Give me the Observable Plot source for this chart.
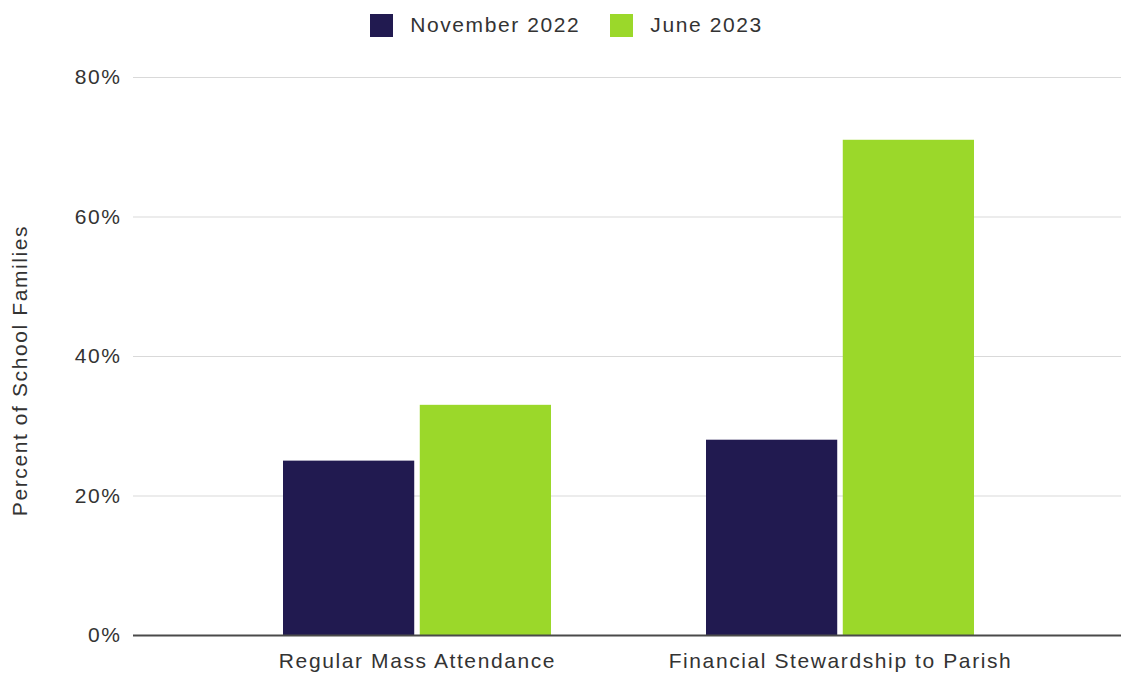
<!DOCTYPE html>
<html>
<head>
<meta charset="utf-8">
<script src="https://cdn.jsdelivr.net/npm/d3@7"></script>
<script src="https://cdn.jsdelivr.net/npm/@observablehq/plot@0.6"></script>
<style>
  html, body { margin: 0; padding: 0; background: #fff; }
  body { width: 1121px; height: 674px; overflow: hidden; font-family: "Liberation Sans", Arial, sans-serif; }
  #legend { height: 50px; display: flex; justify-content: center; align-items: center; gap: 30px; font-size: 21px; letter-spacing: 1.6px; color: #333; padding-left: 12px; box-sizing: border-box; }
  .item { display: flex; align-items: center; gap: 17px; }
  .sw { width: 23px; height: 23px; display: inline-block; }
  #chart svg { display: block; }
</style>
</head>
<body>
<div id="legend"></div>
<div id="chart"></div>
<script>
const categories = ["Regular Mass Attendance", "Financial Stewardship to Parish"];
const seriesNames = ["November 2022", "June 2023"];
const seriesColors = ["#211a50", "#9bd82a"];
const nov2022 = [25, 28];
const jun2023 = [33, 71];
const yTicks = [0, 20, 40, 60, 80];

const data = [];
categories.forEach((c, i) => {
  data.push({category: c, series: seriesNames[0], value: nov2022[i]});
  data.push({category: c, series: seriesNames[1], value: jun2023[i]});
});

const legend = document.getElementById("legend");
seriesNames.forEach((s, i) => {
  const it = document.createElement("div");
  it.className = "item";
  it.innerHTML = `<span class="sw" style="background:${seriesColors[i]}"></span><span>${s}</span>`;
  legend.appendChild(it);
});

const width = 1121, marginLeft = 133, marginRight = 0;
const xRange = [marginLeft, 1125];
const pInner = 0.366, pOuter = 0.354;
const step = (xRange[1] - xRange[0]) / (categories.length - pInner + 2 * pOuter);
const bw = step * (1 - pInner);
const gap = 5;
const half = bw / 2 + gap / 2;
const font = "'Liberation Sans', Arial, sans-serif";

const chart = Plot.plot({
  width,
  height: 624,
  marginLeft,
  marginRight,
  marginTop: 27,
  marginBottom: 39,
  style: {fontFamily: font, fontSize: "21px", color: "#333", background: "#fff", letterSpacing: "1.6px"},
  x: {domain: categories, range: xRange, paddingInner: pInner, paddingOuter: pOuter, label: null},
  y: {domain: [0, 80], label: null},
  color: {domain: seriesNames, range: seriesColors},
  marks: [
    Plot.ruleY(yTicks.filter(d => d !== 0), {stroke: "#d9d9d9", strokeWidth: 1}),
    Plot.barY(data.filter(d => d.series === seriesNames[0]), {x: "category", y: "value", fill: "series", insetRight: half}),
    Plot.barY(data.filter(d => d.series === seriesNames[1]), {x: "category", y: "value", fill: "series", insetLeft: half}),
    Plot.ruleY([0], {stroke: "#4a4a4a", strokeWidth: 2}),
    Plot.axisX({tickSize: 0, tickPadding: 18, fontSize: 21, label: null}),
    Plot.axisY({ticks: yTicks, tickFormat: d => d + "%", tickSize: 0, tickPadding: 12, fontSize: 21, label: null}),
    Plot.text(["Percent of School Families"], {frameAnchor: "left", textAnchor: "middle", dx: -113, dy: 14, rotate: -90, fontSize: 21, fill: "#333"})
  ]
});
document.getElementById("chart").appendChild(chart);
</script>
</body>
</html>
